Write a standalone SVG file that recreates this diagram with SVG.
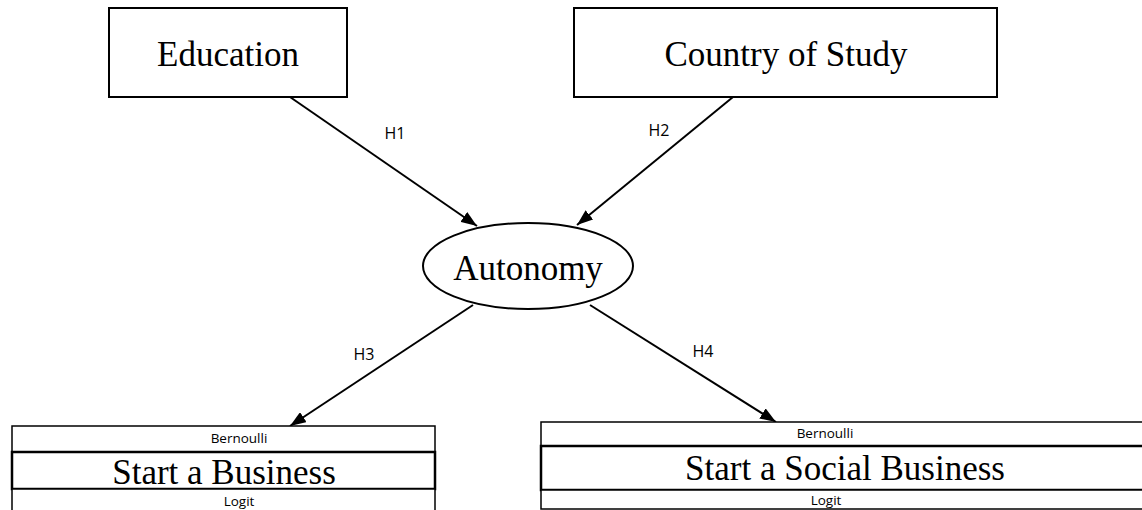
<svg xmlns="http://www.w3.org/2000/svg" width="1142" height="510" viewBox="0 0 1142 510">
<style>
.box{fill:#fff;stroke:#000;stroke-width:2}
.thin{fill:#fff;stroke:#000;stroke-width:1.5}
.thick{fill:#fff;stroke:#000;stroke-width:2.5}
.big{font-family:"Liberation Serif",serif;font-size:35px;fill:#000;text-anchor:middle}
.lbl{font-family:"Open Sans","Liberation Sans",sans-serif;font-size:16px;fill:#000;text-anchor:middle}
.sm{font-family:"Open Sans","Liberation Sans",sans-serif;font-size:13.5px;fill:#000;text-anchor:middle}
</style>
<defs>
<marker id="arrw" viewBox="0 0 16 12" refX="16" refY="6" markerWidth="16" markerHeight="12" orient="auto" markerUnits="userSpaceOnUse">
<path d="M0,0 L16,6 L0,12 z" fill="#000"/>
</marker>
</defs>
<rect width="1142" height="510" fill="#fff"/>
<g id="connectors">
<line x1="290" y1="97" x2="477" y2="226" stroke="#000" stroke-width="2" marker-end="url(#arrw)"/>
<line x1="733" y1="97" x2="577" y2="225" stroke="#000" stroke-width="2" marker-end="url(#arrw)"/>
<line x1="473" y1="305" x2="290" y2="426" stroke="#000" stroke-width="2" marker-end="url(#arrw)"/>
<line x1="590" y1="305" x2="776" y2="422" stroke="#000" stroke-width="2" marker-end="url(#arrw)"/>
<text class="lbl" x="395" y="139">H1</text>
<text class="lbl" x="659" y="136">H2</text>
<text class="lbl" x="364" y="360">H3</text>
<text class="lbl" x="703" y="357">H4</text>
</g>
<g id="education">
<rect class="box" x="109" y="8" width="238" height="89"/>
<text class="big" x="228" y="66">Education</text>
</g>
<g id="country">
<rect class="box" x="574" y="8" width="423" height="89"/>
<text class="big" x="786" y="66">Country of Study</text>
</g>
<g id="autonomy">
<ellipse class="box" cx="528" cy="266" rx="105" ry="43"/>
<text class="big" x="528" y="280">Autonomy</text>
</g>
<g id="start-business">
<rect class="thin" x="12" y="426" width="423" height="26"/>
<text class="sm" x="239" y="443">Bernoulli</text>
<rect class="thick" x="12" y="452" width="423" height="37"/>
<text class="big" x="224" y="484">Start a Business</text>
<rect class="thin" x="12" y="489" width="423" height="30"/>
<text class="sm" x="239" y="506">Logit</text>
</g>
<g id="start-social-business">
<rect class="thin" x="541" y="422" width="610" height="24"/>
<text class="sm" x="825" y="438">Bernoulli</text>
<rect class="thick" x="541" y="446" width="610" height="44"/>
<text class="big" x="845" y="480">Start a Social Business</text>
<rect class="thin" x="541" y="490" width="610" height="19"/>
<text class="sm" x="826" y="505">Logit</text>
</g>
</svg>
